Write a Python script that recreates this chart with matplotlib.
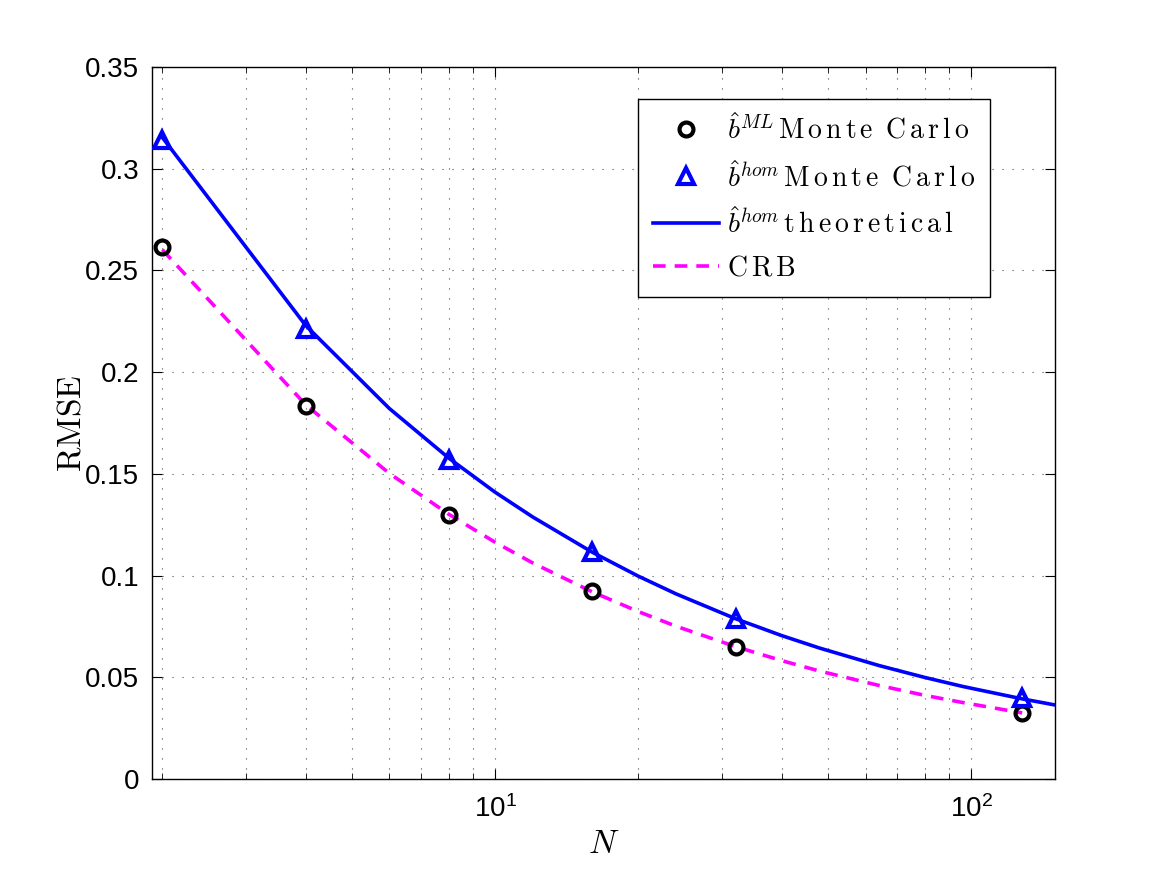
import numpy as np
import matplotlib
matplotlib.use("Agg")
import matplotlib.pyplot as plt
from matplotlib.ticker import FuncFormatter, LogLocator, FixedLocator

plt.rcParams['font.family'] = ['Liberation Sans', 'DejaVu Sans']
plt.rcParams['mathtext.fontset'] = 'cm'

# Monte Carlo points
n_mc = [2, 4, 8, 16, 32, 128]
rmse_ml = [0.2615, 0.1834, 0.1298, 0.0924, 0.0649, 0.0324]
rmse_hom = [0.314, 0.221, 0.157, 0.1115, 0.0786, 0.0398]

# theoretical curve and CRB
n_th = [2, 4, 6, 8, 10, 12, 16, 20, 24, 32, 40, 48, 64, 80, 96, 128, 150]
hom_th = [0.3154, 0.2230, 0.1821, 0.1577, 0.1410, 0.1288, 0.1115, 0.0997,
          0.0910, 0.0788, 0.0705, 0.0644, 0.0558, 0.0499, 0.0455, 0.0394, 0.0364]
n_crb = [2, 4, 6, 8, 10, 12, 16, 20, 24, 32, 40, 48, 64, 80, 96, 128]
crb = [0.2602, 0.1840, 0.1502, 0.1301, 0.1164, 0.1062, 0.0920, 0.0823,
       0.0751, 0.0651, 0.0582, 0.0531, 0.0460, 0.0411, 0.0376, 0.0325]

fig = plt.figure(figsize=(11.67, 8.75), dpi=100)
ax = fig.add_axes([0.130, 0.1097, 0.774, 0.8137])

ax.plot(n_mc, rmse_ml, 'o', mfc='none', mec='k', mew=3, ms=10,
        label=r'$\hat{b}^{ML}\,\mathrm{M\,o\,n\,t\,e\;\;C\,a\,r\,l\,o}$', zorder=5)
ax.plot(n_mc, rmse_hom, '^', mfc='none', mec='b', mew=3, ms=12,
        label=r'$\hat{b}^{hom}\,\mathrm{M\,o\,n\,t\,e\;\;C\,a\,r\,l\,o}$', zorder=5)
ax.plot(n_th, hom_th, '-', color='b', lw=2.6,
        label=r'$\hat{b}^{hom}\,\mathrm{t\,h\,e\,o\,r\,e\,t\,i\,c\,a\,l}$')
ax.plot(n_crb, crb, '--', color='magenta', lw=2.6, dashes=(3.5, 2.5),
        label=r'$\mathrm{C\,R\,B}$')

ax.set_xscale('log')
ax.set_xlim(1.9, 150)
ax.set_ylim(0, 0.35)
ax.set_yticks(np.arange(0, 0.351, 0.05))
ax.yaxis.set_major_formatter(FuncFormatter(lambda v, p: '%g' % round(v, 3)))
ax.xaxis.set_major_locator(FixedLocator([10, 100]))
ax.xaxis.set_major_formatter(FuncFormatter(
    lambda v, p: r'$\mathdefault{10^{%d}}$' % round(np.log10(v))))
ax.xaxis.set_minor_locator(LogLocator(base=10, subs=np.arange(2, 10)))

ax.grid(True, which='major', ls=(0, (1, 8)), color='0.3', lw=0.8)
ax.grid(True, which='minor', axis='x', ls=(0, (1, 8)), color='0.3', lw=0.8)
ax.tick_params(which='both', direction='in', top=True, right=True,
               labelsize=20)
ax.tick_params(axis='y', which='major', length=7, pad=9)
ax.tick_params(axis='x', which='major', length=7, pad=12)
ax.tick_params(which='minor', length=4)
for s in ax.spines.values():
    s.set_linewidth(1.0)

ax.set_xlabel(r'$N$', fontsize=24, labelpad=4)
ax.set_ylabel(r'$\mathrm{RMSE}$', fontsize=24, labelpad=-2)

leg = ax.legend(loc='upper right', bbox_to_anchor=(0.944, 0.975), fontsize=20,
                fancybox=False, edgecolor='k', framealpha=1, handlelength=2.35,
                borderpad=0.55, labelspacing=0.58, handletextpad=0.3)
leg.get_frame().set_linewidth(1.0)

fig.savefig('out.png', dpi=100)
